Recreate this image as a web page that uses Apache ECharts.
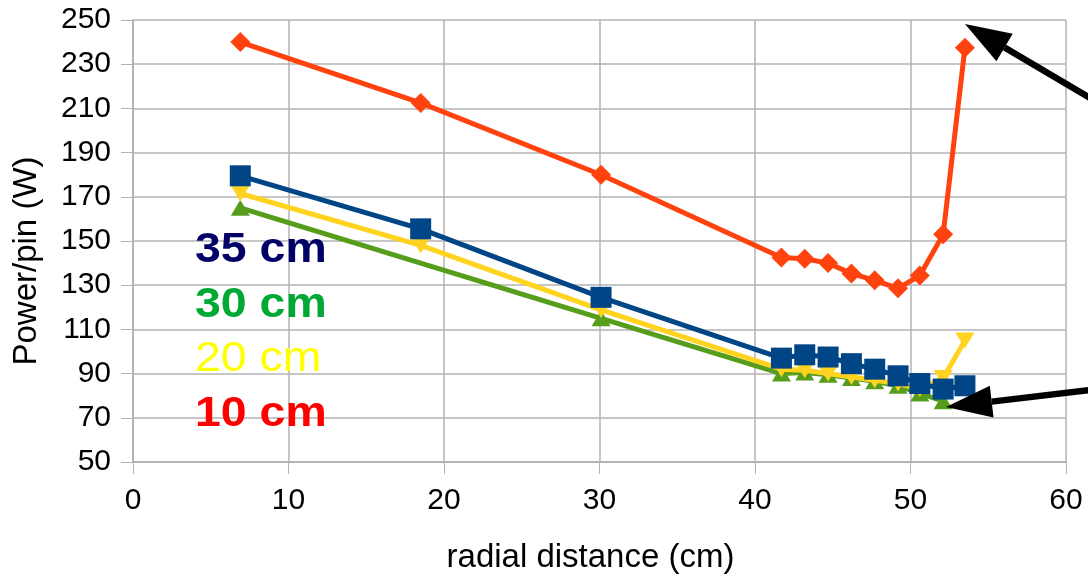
<!DOCTYPE html>
<html>
<head>
<meta charset="utf-8">
<script src="https://cdn.jsdelivr.net/npm/echarts@6/dist/echarts.min.js"></script>
<style>
html,body{margin:0;padding:0;background:#fff;}
#chart{width:1088px;height:579px;}
</style>
</head>
<body>
<div id="chart"></div>
<script>
// ---- data ----
const xAll = [6.9, 18.5, 30.1, 41.7, 43.2, 44.7, 46.2, 47.7, 49.2, 50.6, 52.1, 53.5];
const p10cm = [240, 212.5, 180, 142.5, 142, 140, 135.3, 132.2, 128.6, 134.4, 153, 237.4];
const p35cm = [179.5, 155.5, 124.5, 97, 98.5, 97.5, 94.5, 92, 89, 85.5, 83, 84.5];
const p20cm = [171.5, 148, 118.8, 92, 91.5, 90, 88.5, 87, 85.5, 83, 88, 105];
const xGreen = [6.9, 30.1, 41.7, 43.2, 44.7, 46.2, 47.7, 49.2, 50.6, 52.1];
const p30cm = [165, 115, 90, 90.5, 89.5, 88, 86.5, 84.5, 81, 77.5];
const legendLabels = ['35 cm', '30 cm', '20 cm', '10 cm'];
const xTitle = 'radial distance (cm)';
const yTitle = 'Power/pin (W)';

function pairs(xs, ys){ return xs.map((x,i)=>[x, ys[i]]); }

const chart = echarts.init(document.getElementById('chart'), null, {renderer:'canvas'});
const FONT = '"Liberation Sans", Arial, sans-serif';
const gridColor = '#b3b3b3';

function arrow(tip, tail, headLen, halfW, w){
  const dx = tail[0]-tip[0], dy = tail[1]-tip[1];
  const L = Math.sqrt(dx*dx+dy*dy);
  const ux = dx/L, uy = dy/L;
  const bx = tip[0]+ux*headLen, by = tip[1]+uy*headLen;
  const px = -uy*halfW, py = ux*halfW;
  return [
    {type:'line', shape:{x1:bx, y1:by, x2:tail[0], y2:tail[1]}, style:{stroke:'#000', lineWidth:w}, z:100},
    {type:'polygon', shape:{points:[tip,[bx+px,by+py],[bx-px,by-py]]}, style:{fill:'#000'}, z:100}
  ];
}

const legendColors = ['#000066', '#00a933', '#ffff00', '#ff0000'];
const legendWeights = ['bold', 'bold', 'normal', 'bold'];
const legendTexts = legendLabels.map((t,i)=>({
  type:'text', x:195, y:229 + i*54.5, scaleX:1.08, scaleY:1,
  style:{text:t, x:0, y:0, fill:legendColors[i], font: legendWeights[i] + ' 43px ' + FONT, textVerticalAlign:'top'},
  z:50
}));

const option = {
  animation:false,
  backgroundColor:'#fff',
  grid:{left:133, right:22, top:20, bottom:116, containLabel:false},
  xAxis:{
    type:'value', min:0, max:60, interval:10,
    name:xTitle, nameLocation:'middle', nameGap:79,
    nameTextStyle:{fontFamily:FONT, fontSize:33, color:'#000', padding:[0,18,0,0]},
    axisLine:{show:true, onZero:false, lineStyle:{color:gridColor, width:2}},
    axisTick:{show:true, length:12, lineStyle:{color:gridColor, width:1}},
    axisLabel:{fontFamily:FONT, fontSize:30, color:'#000', margin:24},
    splitLine:{show:true, lineStyle:{color:gridColor, width:1.5}}
  },
  yAxis:{
    type:'value', min:50, max:250, interval:20,
    name:yTitle, nameLocation:'middle', nameGap:90,
    nameTextStyle:{fontFamily:FONT, fontSize:33, color:'#000', padding:[0,40,0,0]},
    axisLine:{show:true, lineStyle:{color:gridColor, width:2}},
    axisTick:{show:true, length:12, lineStyle:{color:gridColor, width:1}},
    axisLabel:{fontFamily:FONT, fontSize:30, color:'#000', margin:22},
    splitLine:{show:true, lineStyle:{color:gridColor, width:1.5}}
  },
  series:[
    {name:'30 cm', type:'line', data:pairs(xGreen, p30cm), symbol:'triangle', symbolSize:[19,16],
     lineStyle:{color:'#579d1c', width:5}, itemStyle:{color:'#579d1c'}, z:2},
    {name:'20 cm', type:'line', data:pairs(xAll, p20cm), symbol:'triangle', symbolRotate:180, symbolSize:[19,16],
     lineStyle:{color:'#ffd320', width:5}, itemStyle:{color:'#ffd320'}, z:3},
    {name:'35 cm', type:'line', data:pairs(xAll, p35cm), symbol:'rect', symbolSize:21,
     lineStyle:{color:'#004586', width:5}, itemStyle:{color:'#004586'}, z:4},
    {name:'10 cm', type:'line', data:pairs(xAll, p10cm), symbol:'diamond', symbolSize:[20,20],
     lineStyle:{color:'#ff420e', width:5}, itemStyle:{color:'#ff420e'}, z:5}
  ],
  graphic: legendTexts
    .concat(arrow([965,24],[1090,98],46,16,6.5))
    .concat(arrow([946,407],[1090,390],46,16,6.5))
};
chart.setOption(option);
</script>
</body>
</html>
